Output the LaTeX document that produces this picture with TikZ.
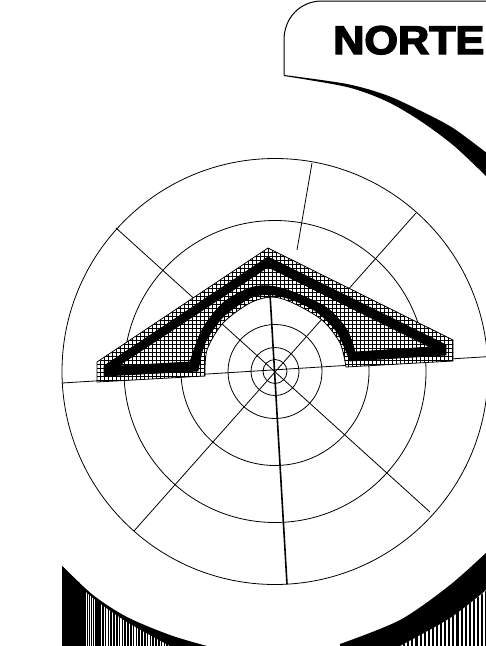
\documentclass[tikz,border=0pt]{standalone}
\usepackage{fontspec}
\newfontfamily\nortefont[FakeBold=3.5]{Liberation Sans Bold}
\tikzset{
  ring/.style={draw=black,line width=0.8pt},
  spoke/.style={draw=black,line width=0.8pt},
  gridline/.style={draw=black,line width=0.85pt},
  stripe/.style={draw=black},
}
\begin{document}
\begin{tikzpicture}[x=1pt,y=-1pt]
\useasboundingbox (0,0) rectangle (486,646);
\clip (0,0) rectangle (486,646);
\coordinate (c) at (275,371.5);
% bottom-left stripes
\begin{scope}
\clip (62,566) -- (62,650) -- (176,650) -- (170,646) -- (127,620) -- (93,596) -- cycle;
\fill[black] (62,560) rectangle (80,650);
\foreach \x in {80,81.9,...,100}{\draw[stripe,line width=1.4pt] (\x,560)--(\x,650);}
\foreach \x in {100,102.8,...,176}{\draw[stripe,line width=1.7pt] (\x,560)--(\x,650);}
\end{scope}
% bottom-right stripes
\begin{scope}
\clip (400,650) -- (400,646) -- (450,618) -- (490,588) -- (490,650) -- cycle;
\foreach \x in {396,400.1,...,490}{\draw[stripe,line width=2.1pt] (\x,580)--(\x,650);}
\end{scope}
% black crescent, bottom left
\fill[black] plot[smooth] coordinates {(62,566)(93,595)(127,617)(170,635)(207,646)}
 -- (207,650) -- (176,650) -- plot[smooth] coordinates {(170,646)(127,622)(93,598)(62,570)} -- cycle;
% black crescent, bottom right
\fill[black] plot[smooth] coordinates {(340,644)(400,620)(450,585)(488,551)}
 -- (488,589) -- plot[smooth] coordinates {(486,590)(450,618)(400,646)(393,650)} -- (340,650) -- cycle;
% black crescent, top
\fill[black] plot[smooth] coordinates {(284,75)(347,84)(386,95)(419,110)(453,128)(488,154)} -- (488,178)
 -- plot[smooth] coordinates {(486,176)(453,145)(419,120)(386,101)(347,87)(284,76)} -- cycle;
% rings
\foreach \r in {12,24,47,94,151,213}{\draw[ring] (c) circle (\r);}
\draw[spoke] (62,383) -- (490,356.5);
\draw[spoke] (116,228) -- (430,512);
\draw[spoke] (416,213) -- (134,531);
\draw[spoke] (312,163) -- (297,250);
% polygon
\def\polyoutline{(97,362) -- (268,248) -- (453,340) -- (453,361) -- (346,367)
  -- plot[smooth] coordinates {(346,367)(340,343)(322,320)(293,303)(272,297)(250,303)(223,323)(207,350)(205,376)}
  -- (97,382) -- cycle}
\fill[white] \polyoutline;
\begin{scope}
\clip \polyoutline;
\foreach \x in {96,100,...,456}{\draw[gridline] (\x,240)--(\x,390);}
\foreach \y in {248,252,...,388}{\draw[gridline] (90,\y)--(460,\y);}
\end{scope}
\draw[line width=0.8pt] \polyoutline;
\filldraw[black,line width=0.8pt,even odd rule] (104,366) -- (268,257) -- (446,345) -- (446,355) -- (350,361)
  -- plot[smooth] coordinates {(350,361)(337,332)(317,312)(293,300)(270,294.5)(250,298)(223,317)(205,343)(198,371)}
  -- (104,376) -- cycle
  (118,366) -- (268,267) -- (430,347) -- (355,352)
  -- plot[smooth] coordinates {(355,352)(347,330)(327,308)(293,292)(270,286)(250,288)(223,303)(202,330)(190,362)} -- cycle;
\draw[line width=1.6pt] (270,294) -- (287,584);
% label box
\draw[line width=1pt] (284,75) -- (284,40) .. controls (284,18) and (300,1) .. (322,1) -- (490,1);
\node[anchor=base west,inner sep=0pt,xscale=1.08] (norte) at (333,54) {\nortefont\fontsize{40}{40}\selectfont NORTE};
\end{tikzpicture}
\end{document}
